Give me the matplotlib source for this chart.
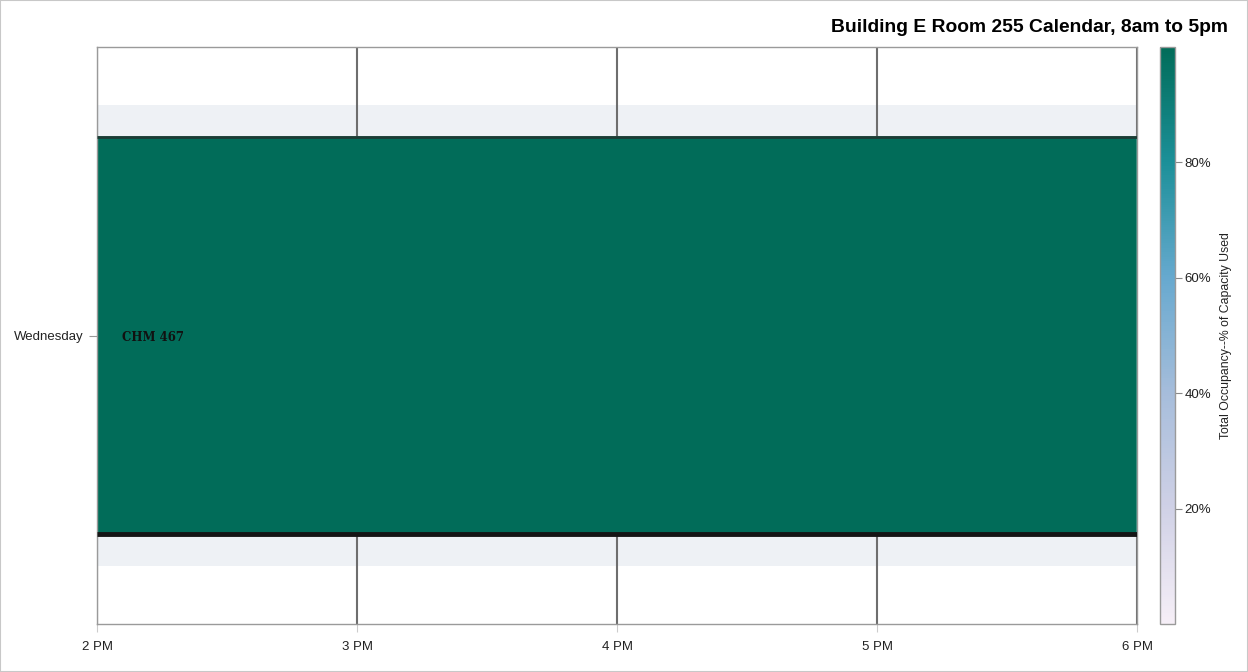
import matplotlib
matplotlib.use("Agg")
import matplotlib.pyplot as plt
from matplotlib.colors import LinearSegmentedColormap, Normalize
from matplotlib.patches import Rectangle
import matplotlib.cm as cm

plt.rcParams['font.family'] = ['Liberation Sans', 'DejaVu Sans']

# ---- data ----
days = ["Wednesday"]
courses = ["CHM 467"]
start_hour = [14]
end_hour = [18]
occupancy = [100]
hour_ticks = [14, 15, 16, 17, 18]
hour_labels = ["2 PM", "3 PM", "4 PM", "5 PM", "6 PM"]
cbar_ticks = [20, 40, 60, 80]

title = "Building E Room 255 Calendar, 8am to 5pm"
cbar_label = "Total Occupancy--% of Capacity Used"

cmap = LinearSegmentedColormap.from_list(
    "pubugn", ["#f6eff7", "#d0d1e6", "#a6bddb", "#67a9cf", "#1c9099", "#016c59"])
norm = Normalize(vmin=0, vmax=100)

W, H = 1248, 672
fig = plt.figure(figsize=(W / 100, H / 100), dpi=100)
fig.patches.append(Rectangle((0, 0), 1, 1, transform=fig.transFigure,
                             fill=False, edgecolor="#c8c8c8", linewidth=1.5))

ax = fig.add_axes([97 / W, 1 - 624 / H, 1040 / W, 577 / H])
ypos = list(range(len(days)))
half = 0.43

for i, d in enumerate(days):
    ax.axhspan(ypos[i] - 0.5, ypos[i] + 0.5, color="#eef1f5", zorder=0, lw=0)

ax.vlines(hour_ticks, -0.625, len(days) - 0.375, color="#6e6e6e", lw=1.5, zorder=1)

for i in range(len(days)):
    col = cmap(norm(occupancy[i]))
    ax.barh(ypos[i], end_hour[i] - start_hour[i], left=start_hour[i], height=2 * half,
            color=col, edgecolor="#3f9282", linewidth=1.2, zorder=2)
    ax.hlines(ypos[i] + half, start_hour[i], end_hour[i], color="#1d3b34", lw=2, zorder=3)
    ax.hlines(ypos[i] - half, start_hour[i], end_hour[i], color="#151515", lw=3.5, zorder=3)
    ax.annotate(courses[i], (start_hour[i], ypos[i]), xytext=(25, -2),
                textcoords="offset pixels", ha="left", va="center",
                fontsize=8.5, fontweight="bold", family="DejaVu Serif",
                color="#111111", zorder=4)

ax.set_xlim(hour_ticks[0], hour_ticks[-1])
ax.set_ylim(-0.625, len(days) - 0.375)
ax.set_xticks(hour_ticks)
ax.set_xticklabels(hour_labels, fontsize=9.5, color="#222222")
ax.set_yticks(ypos)
ax.set_yticklabels(days, fontsize=9.5, color="#222222")
ax.tick_params(axis="x", length=6, color="#cccccc", pad=6)
ax.tick_params(axis="y", length=6, color="#999999", pad=4)
for s in ax.spines.values():
    s.set_color("#9a9a9a")
    s.set_linewidth(1)

cax = fig.add_axes([1160 / W, 1 - 624 / H, 15 / W, 577 / H])
cb = fig.colorbar(cm.ScalarMappable(norm=norm, cmap=cmap), cax=cax)
cb.set_ticks(cbar_ticks)
cb.set_ticklabels([f"{t}%" for t in cbar_ticks])
cb.outline.set_edgecolor("#9a9a9a")
cb.outline.set_linewidth(1)
cax.tick_params(length=5, color="#888888", labelsize=9.5, labelcolor="#222222", pad=2)
cb.set_label(cbar_label, fontsize=8.8, color="#222222", labelpad=6)

fig.text(1228 / W, 1 - 28 / H, title, ha="right", va="center",
         fontsize=13.9, fontweight="bold", color="#000000")

fig.savefig("out.png", dpi=100)
